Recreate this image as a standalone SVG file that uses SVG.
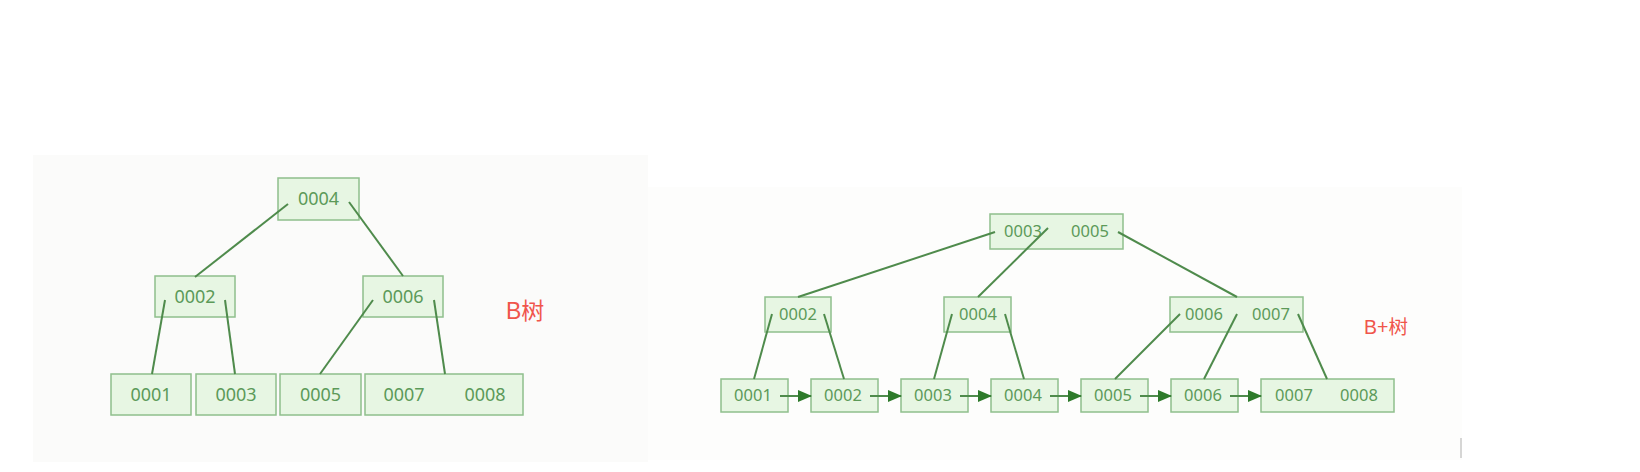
<svg xmlns="http://www.w3.org/2000/svg" width="1640" height="472" viewBox="0 0 1640 472">
<defs>
<style>
.nd{fill:#e7f6e3;stroke:#8fbf8c;stroke-width:1.5}
.t1{font-family:"Noto Sans","DejaVu Sans",sans-serif;font-size:18px;fill:#5c9a59;text-anchor:middle}
.t2{font-family:"Noto Sans","DejaVu Sans",sans-serif;font-size:16.5px;fill:#5c9a59;text-anchor:middle}
.ln{stroke:#4f8b4c;stroke-width:2;fill:none}
.ar{stroke:#4f8b4c;stroke-width:2;fill:none;marker-end:url(#ah)}
.lbl{font-family:"Liberation Sans","Noto Sans CJK SC",sans-serif;font-size:23px;fill:#f0554b}
</style>
<marker id="ah" markerWidth="14" markerHeight="12" refX="13" refY="6" orient="auto" markerUnits="userSpaceOnUse">
<path d="M0,0 L14,6 L0,12 Z" fill="#2e7a2b"/>
</marker>
</defs>
<rect width="1640" height="472" fill="#ffffff"/>
<rect x="33" y="155" width="615" height="307" fill="#fbfbfa"/>
<rect x="648" y="187" width="814" height="273" fill="#fdfdfc"/>
<line x1="1461" y1="438" x2="1461" y2="458" stroke="#c8c8c8" stroke-width="1.5"/>

<g id="b-root"><rect class="nd" x="278" y="178" width="81" height="42"/><text class="t1" x="318.5" y="205">0004</text></g>
<g id="b-0002"><rect class="nd" x="155" y="276" width="80" height="41"/><text class="t1" x="195" y="303">0002</text></g>
<g id="b-0006"><rect class="nd" x="363" y="276" width="80" height="41"/><text class="t1" x="403" y="303">0006</text></g>
<g id="b-0001"><rect class="nd" x="111" y="374" width="80" height="41"/><text class="t1" x="151" y="401">0001</text></g>
<g id="b-0003"><rect class="nd" x="196" y="374" width="80" height="41"/><text class="t1" x="236" y="401">0003</text></g>
<g id="b-0005"><rect class="nd" x="280" y="374" width="81" height="41"/><text class="t1" x="320.5" y="401">0005</text></g>
<g id="b-0007-0008"><rect class="nd" x="365" y="374" width="158" height="41"/><text class="t1" x="404" y="401">0007</text><text class="t1" x="485" y="401">0008</text></g>
<g id="b-label"><text class="lbl" x="506" y="319">B树</text></g>

<g id="bp-root"><rect class="nd" x="990" y="214" width="133" height="35"/><text class="t2" x="1023" y="237">0003</text><text class="t2" x="1090" y="237">0005</text></g>
<g id="bp-0002"><rect class="nd" x="765" y="297" width="66" height="35"/><text class="t2" x="798" y="320">0002</text></g>
<g id="bp-0004"><rect class="nd" x="944" y="297" width="67" height="35"/><text class="t2" x="978" y="320">0004</text></g>
<g id="bp-0006-0007"><rect class="nd" x="1170" y="297" width="133" height="35"/><text class="t2" x="1204" y="320">0006</text><text class="t2" x="1271" y="320">0007</text></g>

<g id="bp-leaf1"><rect class="nd" x="721" y="379" width="67" height="33"/><text class="t2" x="753" y="401">0001</text></g>
<g id="bp-leaf2"><rect class="nd" x="811" y="379" width="67" height="33"/><text class="t2" x="843" y="401">0002</text></g>
<g id="bp-leaf3"><rect class="nd" x="901" y="379" width="67" height="33"/><text class="t2" x="933" y="401">0003</text></g>
<g id="bp-leaf4"><rect class="nd" x="991" y="379" width="67" height="33"/><text class="t2" x="1023" y="401">0004</text></g>
<g id="bp-leaf5"><rect class="nd" x="1081" y="379" width="67" height="33"/><text class="t2" x="1113" y="401">0005</text></g>
<g id="bp-leaf6"><rect class="nd" x="1171" y="379" width="67" height="33"/><text class="t2" x="1203" y="401">0006</text></g>
<g id="bp-leaf7"><rect class="nd" x="1261" y="379" width="133" height="33"/><text class="t2" x="1294" y="401">0007</text><text class="t2" x="1359" y="401">0008</text></g>
<g id="bp-label"><text class="lbl" x="1364" y="334" style="font-size:19.5px">B+树</text></g>

<g id="connectors">
<line class="ln" x1="288" y1="204" x2="195" y2="277"/>
<line class="ln" x1="349" y1="202" x2="403" y2="276"/>
<line class="ln" x1="165" y1="300" x2="152" y2="374"/>
<line class="ln" x1="225" y1="300" x2="235" y2="374"/>
<line class="ln" x1="373" y1="300" x2="320" y2="374"/>
<line class="ln" x1="434" y1="300" x2="445" y2="374"/>

<line class="ln" x1="995" y1="232" x2="798" y2="297"/>
<line class="ln" x1="1048" y1="228" x2="978" y2="297"/>
<line class="ln" x1="1118" y1="232" x2="1237" y2="297"/>
<line class="ln" x1="772" y1="314" x2="754" y2="379"/>
<line class="ln" x1="824" y1="314" x2="844" y2="379"/>
<line class="ln" x1="952" y1="314" x2="934" y2="379"/>
<line class="ln" x1="1005" y1="314" x2="1024" y2="379"/>
<line class="ln" x1="1180" y1="314" x2="1115" y2="379"/>
<line class="ln" x1="1237" y1="314" x2="1204" y2="379"/>
<line class="ln" x1="1298" y1="314" x2="1327" y2="379"/>

<line class="ar" x1="780" y1="396" x2="811" y2="396"/>
<line class="ar" x1="870" y1="396" x2="901" y2="396"/>
<line class="ar" x1="960" y1="396" x2="991" y2="396"/>
<line class="ar" x1="1050" y1="396" x2="1081" y2="396"/>
<line class="ar" x1="1140" y1="396" x2="1171" y2="396"/>
<line class="ar" x1="1230" y1="396" x2="1261" y2="396"/>
</g>
</svg>
